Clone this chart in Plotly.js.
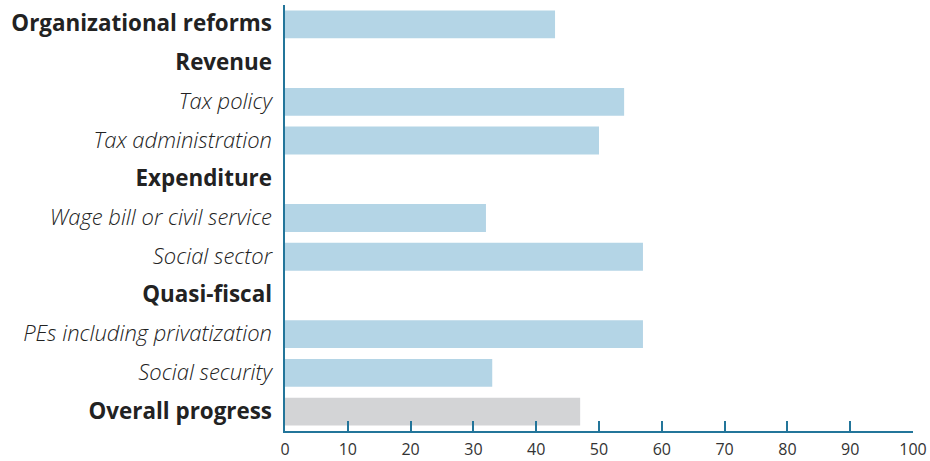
<!DOCTYPE html>
<html>
<head>
<meta charset="utf-8">
<script src="https://cdn.plot.ly/plotly-3.0.1.min.js"></script>
<style>html,body{margin:0;padding:0;background:#fff;}#chart{width:930px;height:461px;}</style>
</head>
<body>
<div id="chart"></div>
<script>
const categories = ["Organizational reforms","Revenue","Tax policy","Tax administration","Expenditure","Wage bill or civil service","Social sector","Quasi-fiscal","PEs including privatization","Social security","Overall progress"];
const labelStyle = ["bold","bold","italic","italic","bold","italic","italic","bold","italic","italic","bold"];
const values = [43, null, 54, 50, null, 32, 57, null, 57, 33, 47];
const barColors = ["#b4d5e6","#b4d5e6","#b4d5e6","#b4d5e6","#b4d5e6","#b4d5e6","#b4d5e6","#b4d5e6","#b4d5e6","#b4d5e6","#d3d4d6"];
const xTicks = [0,10,20,30,40,50,60,70,80,90,100];

const tickText = categories.map((c,i)=> labelStyle[i]==="bold"
  ? '<span style="font-weight:bold;font-size:22.4px">'+c+'</span>'
  : '<span style="font-style:italic;font-weight:300;font-size:22px">'+c+'</span>');

const axisColor = "#23759a";
Plotly.newPlot("chart", [{
  type: "bar",
  orientation: "h",
  y: categories,
  x: values,
  marker: {color: barColors, line: {width: 0}},
  hoverinfo: "none"
}], {
  width: 930, height: 461,
  margin: {l: 285, r: 17, t: 5, b: 30},
  paper_bgcolor: "#fff", plot_bgcolor: "#fff",
  bargap: 0.28,
  showlegend: false,
  font: {family: "Open Sans, sans-serif", color: "#222"},
  xaxis: {
    range: [0, 100], tickvals: xTicks, ticktext: xTicks.map(String),
    showgrid: false, zeroline: false,
    showline: true, linecolor: axisColor, linewidth: 2,
    ticks: "inside", ticklen: 10, tickwidth: 2, tickcolor: axisColor,
    ticklabelstandoff: 3,
    tickfont: {size: 16, color: "#333"}
  },
  yaxis: {
    type: "category", autorange: false, range: [10.5, -0.5],
    tickvals: categories, ticktext: tickText,
    showgrid: false, zeroline: false,
    showline: true, linecolor: axisColor, linewidth: 2,
    ticks: "", ticklabelstandoff: 7,
    tickfont: {size: 20, color: "#222"}
  }
}, {staticPlot: true, displayModeBar: false});
</script>
</body>
</html>
